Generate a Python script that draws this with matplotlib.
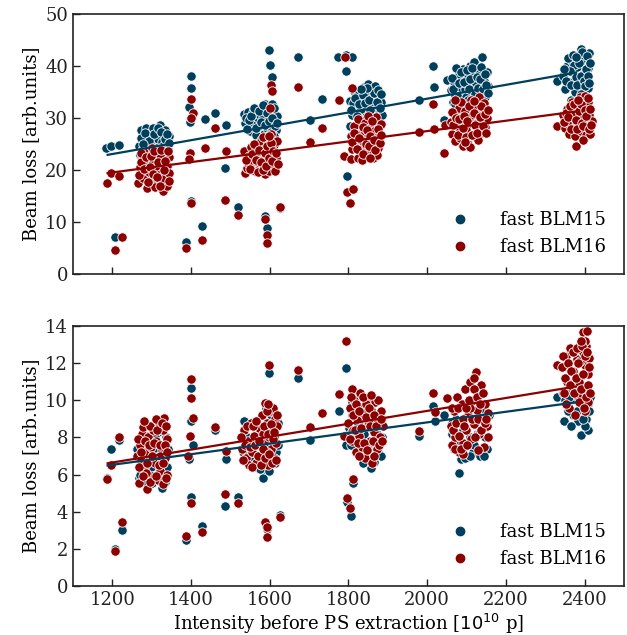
import numpy as np
import matplotlib.pyplot as plt
from matplotlib.lines import Line2D

# top panel, fast BLM15 (x = intensity [1e10 p], y = beam loss)
top_blm15 = [
    # scattered shots
    (1185, 24.3), (1197, 24.6), (1218, 24.8), (1207, 7.2), (1400, 38.1), (1401, 35.8),
    (1394, 32.2), (1397, 29.2), (1436, 29.9), (1461, 30.9), (1490, 28.7), (1486, 20.4),
    (1520, 12.8), (1427, 9.2), (1386, 6.1), (1399, 14.1),
    (1597, 43.0), (1601, 40.2), (1605, 37.9), (1671, 41.7), (1733, 33.7), (1702, 29.6),
    (1774, 41.7), (1793, 42.2), (1810, 41.7), (1794, 39.1), (1797, 18.9), (1589, 11.2),
    (1592, 8.8), (1625, 12.6), (2015, 39.9), (2018, 36.0), (1979, 33.5), (1804, 28.4),
    (2050, 37.3), (2044, 29.7), (2330, 37.2),
    # bunch 1
    (1268, 24.6), (1272, 27.6), (1286, 28.1), (1321, 28.6), (1313, 27.1), (1280, 25.9),
    (1295, 26.5), (1305, 25.3), (1330, 26.8), (1340, 25.8), (1276, 23.8), (1290, 24.4),
    (1300, 27.4), (1318, 24.9), (1335, 27.6), (1342, 24.0), (1284, 22.6), (1308, 23.1),
    (1326, 23.7), (1296, 22.0), (1338, 22.4), (1270, 22.9), (1315, 26.0), (1325, 25.4),
    (1288, 27.0), (1303, 28.0), (1280, 24.0), (1345, 26.6),
    (1274, 26.2), (1282, 27.2), (1292, 25.6), (1298, 23.4), (1306, 26.9), (1311, 24.2),
    (1316, 28.0), (1323, 27.3), (1329, 24.6), (1333, 25.9), (1339, 27.0), (1344, 25.1),
    (1287, 23.3), (1320, 23.0), (1278, 25.0),
    # bunch 2
    (1534, 30.8), (1545, 31.2), (1536, 29.0), (1550, 27.5), (1557, 31.1), (1562, 29.5),
    (1570, 28.2), (1575, 30.6), (1580, 31.8), (1585, 27.0), (1590, 29.9), (1595, 32.3),
    (1600, 30.8), (1603, 28.6), (1608, 31.5), (1612, 29.2), (1616, 27.6), (1598, 26.2),
    (1588, 32.7), (1566, 26.8), (1555, 28.7), (1578, 25.8), (1605, 32.7), (1618, 30.4),
    (1592, 28.0), (1542, 27.9), (1610, 26.5), (1584, 30.0),
    (1540, 30.0), (1548, 29.6), (1553, 30.4), (1560, 32.0), (1564, 28.0), (1572, 31.4),
    (1577, 29.2), (1582, 32.5), (1587, 28.6), (1593, 31.0), (1597, 29.4), (1602, 27.4),
    (1606, 30.0), (1611, 32.0), (1614, 28.4), (1619, 29.0), (1594, 25.6),
    # bunch 3
    (1804, 33.2), (1810, 30.5), (1815, 35.2), (1820, 32.0), (1825, 34.9), (1830, 29.8),
    (1835, 33.6), (1840, 36.0), (1845, 31.2), (1850, 36.5), (1855, 34.2), (1858, 30.0),
    (1862, 35.6), (1866, 32.6), (1870, 29.2), (1874, 34.0), (1878, 31.5), (1882, 33.0),
    (1848, 28.6), (1833, 31.8), (1860, 33.0), (1842, 35.0), (1812, 32.8), (1868, 36.2),
    (1885, 30.6), (1828, 28.9),
    (1807, 31.5), (1817, 33.8), (1822, 30.3), (1827, 32.6), (1838, 34.4), (1843, 32.8),
    (1852, 33.4), (1856, 31.6), (1864, 34.8), (1872, 33.0), (1876, 35.4), (1880, 32.0),
    (1884, 34.6), (1846, 35.8), (1832, 35.6),
    # bunch 4
    (2060, 35.3), (2065, 33.0), (2068, 37.0), (2072, 34.5), (2076, 31.8), (2080, 38.5),
    (2084, 36.0), (2088, 33.8), (2092, 39.5), (2096, 35.5), (2100, 32.4), (2104, 37.8),
    (2108, 40.0), (2112, 34.8), (2116, 31.5), (2120, 38.2), (2124, 36.5), (2128, 33.2),
    (2132, 39.0), (2136, 35.0), (2139, 41.7), (2144, 37.2), (2148, 34.0), (2152, 38.8),
    (2155, 36.2), (2090, 31.0), (2118, 40.8), (2074, 39.6), (2100, 36.8), (2140, 32.4),
    (2062, 37.6), (2066, 35.6), (2078, 34.0), (2082, 36.8), (2086, 38.8), (2094, 37.0),
    (2098, 34.0), (2102, 39.2), (2106, 35.6), (2110, 37.4), (2114, 39.6), (2122, 34.6),
    (2126, 37.8), (2130, 35.8), (2134, 37.4), (2138, 39.8), (2142, 35.6), (2146, 38.4),
    (2150, 36.4), (2154, 34.8), (2070, 32.6), (2104, 33.4),
    # bunch 5
    (2345, 38.0), (2350, 35.5), (2355, 40.0), (2360, 37.0), (2365, 33.5), (2368, 41.0),
    (2372, 38.8), (2376, 35.0), (2380, 39.8), (2384, 42.0), (2388, 36.6), (2390, 43.2),
    (2394, 38.2), (2398, 40.8), (2400, 34.6), (2402, 41.6), (2405, 37.4), (2408, 39.6),
    (2410, 35.8), (2412, 42.4), (2396, 36.0), (2386, 33.6), (2374, 40.2), (2362, 39.0),
    (2392, 41.2), (2406, 33.8), (2378, 37.8),
    (2348, 39.4), (2352, 37.2), (2358, 41.6), (2366, 36.4), (2370, 42.2), (2382, 36.4),
    (2386, 40.6), (2390, 38.0), (2394, 42.6), (2398, 37.2), (2403, 39.4), (2407, 42.0),
    (2410, 38.0), (2414, 40.6), (2400, 36.2), (2378, 41.8), (2392, 34.6), (2412, 36.8),
]

# top panel, fast BLM16
top_blm16 = [
    (1187, 17.5), (1197, 19.4), (1218, 18.8), (1207, 4.7), (1225, 7.1), (1401, 33.7),
    (1406, 30.9), (1401, 30.0), (1397, 23.2), (1394, 22.1), (1399, 13.7), (1386, 5.0),
    (1427, 6.5), (1436, 24.2), (1461, 28.1), (1490, 23.7), (1486, 14.2), (1520, 11.4),
    (1601, 31.9), (1602, 36.3), (1605, 35.2), (1625, 12.9), (1589, 10.6), (1592, 7.5),
    (1594, 6.0), (1671, 36.0), (1733, 28.1), (1702, 25.3), (1775, 33.5), (1792, 41.7),
    (1810, 35.8), (1788, 22.7), (1806, 22.2), (1796, 15.7), (1812, 16.3), (1805, 13.7),
    (1979, 27.3), (2015, 32.7), (2018, 27.8), (2044, 23.2), (2046, 28.6), (2329, 28.5),
    (2379, 24.7),
    # bunch 1
    (1266, 17.5), (1270, 20.5), (1275, 22.4), (1287, 16.5), (1283, 19.0), (1290, 21.5),
    (1296, 23.3), (1300, 18.0), (1305, 20.3), (1310, 22.2), (1315, 17.6), (1318, 24.0),
    (1322, 19.5), (1326, 21.0), (1329, 16.0), (1333, 23.5), (1336, 18.4), (1340, 20.8),
    (1343, 22.5), (1278, 18.4), (1293, 19.6), (1308, 16.8), (1320, 22.8), (1338, 17.0),
    (1281, 23.5), (1300, 24.3), (1312, 20.8), (1328, 18.3), (1345, 19.5), (1272, 21.6),
    (1302, 21.2),
    (1268, 19.0), (1274, 23.2), (1280, 20.2), (1285, 22.5), (1291, 17.6), (1295, 20.6),
    (1298, 22.6), (1304, 19.2), (1307, 23.6), (1313, 18.6), (1317, 21.5), (1321, 16.9),
    (1324, 23.8), (1331, 20.0), (1335, 21.8), (1341, 23.6), (1344, 17.8),
    # bunch 2
    (1535, 23.7), (1538, 19.4), (1543, 20.3), (1548, 22.6), (1553, 24.5), (1558, 21.2),
    (1562, 19.8), (1567, 23.1), (1572, 25.2), (1576, 20.6), (1580, 22.0), (1585, 24.0),
    (1588, 19.2), (1592, 26.0), (1596, 21.5), (1600, 23.4), (1603, 27.0), (1607, 20.2),
    (1611, 24.8), (1615, 22.4), (1618, 25.6), (1590, 22.8), (1570, 21.5), (1598, 19.9),
    (1582, 26.4), (1560, 25.0), (1612, 21.0), (1546, 21.4),
    (1540, 22.0), (1550, 20.2), (1555, 23.0), (1564, 22.0), (1569, 19.6), (1574, 23.8),
    (1578, 21.6), (1583, 20.0), (1587, 23.3), (1591, 20.8), (1594, 24.6), (1597, 22.4),
    (1602, 25.2), (1605, 21.8), (1609, 23.6), (1614, 19.8), (1617, 23.2), (1620, 21.2),
    (1599, 26.6),
    # bunch 3
    (1806, 26.5), (1810, 24.0), (1815, 28.5), (1820, 25.5), (1825, 29.8), (1825, 22.4),
    (1830, 27.2), (1834, 21.9), (1838, 24.8), (1842, 29.0), (1846, 26.2), (1850, 23.3),
    (1854, 28.0), (1858, 25.0), (1862, 22.3), (1866, 27.5), (1870, 30.1), (1874, 24.3),
    (1878, 26.8), (1882, 28.8), (1850, 30.3), (1840, 23.5), (1860, 29.4), (1818, 27.0),
    (1832, 25.8), (1872, 22.8),
    (1808, 25.4), (1813, 27.2), (1822, 24.0), (1828, 26.2), (1836, 28.2), (1844, 25.0),
    (1848, 27.6), (1852, 24.6), (1856, 26.6), (1864, 25.8), (1868, 23.8), (1876, 27.8),
    (1880, 25.2), (1884, 26.8), (1836, 23.0), (1856, 22.4),
    # bunch 4
    (2060, 29.2), (2064, 27.0), (2068, 30.8), (2072, 25.6), (2076, 28.4), (2080, 32.0),
    (2084, 26.2), (2088, 29.6), (2092, 24.6), (2096, 31.3), (2100, 27.8), (2104, 25.0),
    (2108, 30.2), (2112, 33.5), (2116, 28.9), (2120, 26.5), (2124, 31.8), (2128, 29.0),
    (2132, 34.0), (2136, 27.2), (2140, 30.6), (2144, 32.8), (2148, 28.2), (2152, 30.0),
    (2086, 33.0), (2110, 24.4), (2130, 25.8), (2070, 33.5),
    (2062, 31.2), (2066, 28.6), (2074, 30.0), (2078, 26.8), (2082, 29.8), (2090, 28.0),
    (2094, 30.4), (2098, 26.4), (2102, 29.4), (2106, 32.4), (2114, 26.8), (2118, 31.0),
    (2122, 28.6), (2126, 27.2), (2134, 30.2), (2138, 32.4), (2142, 28.4), (2146, 30.8),
    (2150, 27.2), (2154, 31.6), (2096, 25.4), (2120, 33.2),
    # bunch 5
    (2345, 30.5), (2350, 28.0), (2355, 31.8), (2360, 27.0), (2364, 29.5), (2368, 33.0),
    (2372, 30.8), (2376, 26.5), (2380, 32.2), (2384, 29.0), (2388, 34.0), (2392, 27.5),
    (2395, 31.0), (2398, 33.6), (2400, 29.8), (2403, 26.8), (2406, 32.5), (2409, 28.6),
    (2412, 30.6), (2415, 27.0), (2390, 30.2), (2370, 28.0), (2400, 34.3), (2356, 29.0),
    (2410, 33.0), (2418, 29.4),
    (2348, 29.2), (2352, 31.0), (2358, 30.2), (2362, 32.4), (2366, 27.8), (2374, 32.6),
    (2378, 29.6), (2382, 27.8), (2386, 31.4), (2390, 32.6), (2393, 29.0), (2397, 28.4),
    (2402, 31.6), (2405, 30.4), (2408, 33.8), (2411, 27.8), (2414, 31.8), (2416, 28.6),
    (2396, 25.8), (2384, 33.4),
]

# bottom panel, fast BLM15
bot_blm15 = [
    (1197, 7.36), (1218, 7.86), (1187, 5.83), (1207, 2.0), (1225, 3.0), (1401, 10.66),
    (1400, 8.9), (1406, 7.6), (1394, 6.86), (1399, 4.8), (1386, 2.5), (1427, 3.25),
    (1461, 8.38), (1490, 6.86), (1486, 4.3), (1520, 4.8), (1535, 8.9),
    (1597, 11.45), (1671, 11.18), (1775, 9.42), (1793, 11.72), (1810, 9.9), (1794, 7.6),
    (1702, 7.88), (1806, 3.77), (1812, 5.56), (1797, 4.52), (1592, 3.05), (1625, 3.8),
    (1979, 8.08), (2016, 9.68), (2020, 8.9), (2044, 9.19), (2330, 10.19), (2347, 8.9),
    (2390, 8.11), (2409, 8.4),
    # bunch 1
    (1266, 6.9), (1268, 5.83), (1271, 7.66), (1276, 6.3), (1282, 7.2), (1288, 8.1),
    (1295, 6.0), (1300, 5.56), (1305, 7.4), (1310, 6.5), (1316, 8.3), (1320, 5.9),
    (1327, 5.3), (1330, 7.0), (1336, 8.0), (1340, 6.4), (1292, 7.0), (1312, 7.7),
    (1324, 6.8), (1302, 8.6),
    (1270, 6.0), (1286, 5.6), (1298, 6.4), (1308, 8.0), (1318, 7.0), (1334, 5.6),
    (1342, 7.4), (1262, 7.4),
    # bunch 2
    (1533, 7.2), (1542, 8.0), (1550, 6.8), (1558, 7.6), (1565, 6.4), (1572, 8.2),
    (1580, 6.9), (1584, 5.83), (1588, 6.28), (1592, 7.6), (1596, 8.6), (1600, 7.0),
    (1604, 9.2), (1608, 6.64), (1612, 8.0), (1616, 7.2), (1620, 8.8), (1590, 9.6),
    (1538, 7.6), (1554, 7.2), (1562, 8.6), (1576, 6.3), (1598, 6.2), (1606, 7.8),
    (1614, 6.6), (1620, 7.6),
    # bunch 3
    (1802, 8.5), (1810, 9.2), (1818, 7.6), (1825, 8.8), (1832, 7.0), (1840, 8.2),
    (1846, 6.9), (1852, 9.0), (1858, 6.34), (1862, 7.6), (1868, 8.4), (1875, 7.2),
    (1880, 9.0), (1886, 8.0), (1850, 7.6), (1835, 9.6),
    (1806, 7.6), (1820, 8.0), (1836, 6.6), (1844, 7.4), (1856, 7.0), (1866, 6.7),
    (1872, 8.2), (1884, 7.0),
    # bunch 4
    (2062, 8.2), (2068, 7.4), (2074, 9.0), (2080, 6.08), (2087, 6.82), (2092, 8.4),
    (2098, 7.6), (2104, 9.4), (2110, 8.0), (2116, 7.2), (2122, 9.0), (2128, 8.2),
    (2134, 7.0), (2140, 9.6), (2146, 8.0), (2152, 7.4), (2156, 9.2),
    (2064, 8.8), (2070, 8.2), (2084, 7.8), (2096, 6.9), (2108, 7.0), (2120, 7.6),
    (2138, 8.4), (2150, 8.6), (2144, 7.0),
    # bunch 5
    (2345, 10.4), (2355, 9.8), (2362, 10.6), (2370, 9.2), (2378, 10.0), (2384, 8.9),
    (2392, 9.6), (2398, 10.4), (2404, 9.0), (2410, 9.8), (2414, 10.2), (2366, 8.6),
    (2402, 8.6), (2388, 10.77),
    (2350, 10.0), (2358, 9.4), (2374, 10.4), (2380, 9.4), (2396, 9.0), (2406, 10.0),
    (2412, 9.4), (2360, 10.2),
]

# bottom panel, fast BLM16
bot_blm16 = [
    (1197, 6.53), (1218, 8.04), (1187, 5.74), (1207, 1.9), (1225, 3.43), (1401, 11.13),
    (1400, 10.1), (1406, 9.06), (1397, 8.08), (1392, 7.0), (1399, 4.47), (1386, 2.7),
    (1427, 2.92), (1461, 8.58), (1490, 7.29), (1486, 4.97), (1520, 4.49),
    (1597, 11.9), (1671, 11.65), (1775, 10.36), (1793, 13.18), (1810, 10.63), (1733, 9.33),
    (1702, 8.56), (1788, 8.08), (1806, 8.26), (1812, 5.76), (1797, 4.72), (1805, 4.18),
    (1588, 3.46), (1594, 3.16), (1592, 2.66), (1625, 3.72), (1979, 8.33), (2016, 10.37),
    (2020, 9.37), (2050, 10.12), (2329, 11.88),
    # bunch 1
    (1262, 7.0), (1268, 5.53), (1270, 7.6), (1275, 8.2), (1278, 8.58), (1280, 6.4),
    (1284, 7.2), (1287, 5.24), (1290, 8.0), (1294, 6.8), (1298, 7.5), (1300, 5.9),
    (1304, 8.4), (1308, 6.6), (1312, 7.8), (1315, 5.7), (1318, 8.8), (1322, 6.2),
    (1325, 7.3), (1328, 8.4), (1332, 9.06), (1335, 6.9), (1338, 7.9), (1340, 6.0),
    (1330, 5.5), (1320, 7.0), (1296, 8.6), (1285, 6.1), (1310, 9.0), (1272, 6.8),
    (1265, 7.9), (1268, 6.4), (1273, 7.2), (1277, 5.9), (1282, 7.8), (1288, 6.6),
    (1292, 7.6), (1296, 5.6), (1302, 7.0), (1306, 7.7), (1310, 5.9), (1314, 8.4),
    (1318, 6.5), (1322, 7.6), (1326, 8.8), (1330, 6.6), (1334, 7.6), (1337, 8.6),
    (1340, 7.2), (1336, 5.8), (1280, 8.9),
    # bunch 2
    (1530, 7.4), (1535, 8.4), (1540, 6.9), (1545, 7.8), (1548, 6.53), (1552, 8.8),
    (1556, 7.2), (1560, 8.1), (1564, 6.6), (1568, 7.6), (1572, 8.5), (1576, 7.0),
    (1580, 9.2), (1584, 6.8), (1587, 9.84), (1590, 7.9), (1593, 8.8), (1596, 6.5),
    (1600, 9.4), (1603, 7.4), (1606, 8.3), (1610, 6.9), (1613, 9.0), (1616, 7.7),
    (1618, 8.6), (1594, 7.2), (1582, 8.2), (1570, 7.0), (1598, 8.0), (1608, 9.6),
    (1528, 8.0), (1533, 6.8), (1538, 7.6), (1543, 8.6), (1550, 7.5), (1554, 6.4),
    (1558, 8.6), (1562, 7.6), (1566, 8.9), (1574, 7.8), (1578, 6.5), (1582, 7.4),
    (1586, 8.6), (1589, 6.9), (1592, 9.4), (1595, 8.2), (1599, 7.1), (1602, 8.7),
    (1605, 6.6), (1609, 7.9), (1612, 8.3), (1615, 6.8), (1619, 9.2), (1596, 9.8),
    # bunch 3
    (1800, 8.8), (1805, 9.6), (1808, 7.8), (1812, 8.4), (1815, 10.0), (1818, 7.2),
    (1822, 9.0), (1826, 8.1), (1830, 10.4), (1834, 7.5), (1838, 9.3), (1842, 6.9),
    (1846, 8.6), (1850, 10.1), (1854, 7.8), (1858, 9.5), (1860, 6.64), (1864, 8.3),
    (1868, 9.9), (1872, 7.4), (1876, 8.9), (1880, 8.0), (1884, 9.4), (1888, 8.6),
    (1845, 9.8), (1826, 7.0), (1866, 7.0), (1852, 8.8),
    (1803, 7.9), (1807, 10.2), (1811, 9.2), (1816, 8.4), (1820, 9.8), (1824, 7.7),
    (1828, 9.4), (1832, 8.5), (1836, 10.2), (1840, 7.7), (1844, 9.1), (1848, 7.3),
    (1852, 9.6), (1856, 8.6), (1862, 7.8), (1866, 9.2), (1870, 8.6), (1874, 10.0),
    (1878, 7.6), (1882, 9.0), (1886, 7.8), (1858, 10.3),
    # bunch 4
    (2060, 8.6), (2064, 7.6), (2068, 9.4), (2072, 8.0), (2076, 10.2), (2080, 7.2),
    (2084, 8.9), (2088, 9.8), (2092, 7.7), (2096, 10.6), (2100, 8.4), (2104, 9.2),
    (2108, 11.0), (2112, 7.9), (2116, 10.0), (2120, 8.7), (2124, 11.5), (2128, 9.5),
    (2132, 8.2), (2136, 10.8), (2140, 9.0), (2144, 7.5), (2148, 9.8), (2152, 8.6),
    (2155, 9.3), (2090, 7.1), (2130, 7.3), (2110, 9.6),
    (2062, 9.6), (2066, 8.4), (2070, 7.4), (2074, 8.8), (2078, 9.6), (2082, 8.1),
    (2086, 7.4), (2090, 9.0), (2094, 8.6), (2098, 9.6), (2102, 7.6), (2106, 10.0),
    (2114, 9.0), (2118, 10.6), (2122, 8.0), (2126, 10.2), (2130, 9.0), (2134, 9.8),
    (2138, 8.4), (2142, 10.4), (2146, 8.8), (2150, 9.0), (2154, 8.0), (2120, 11.2),
    # bunch 5
    (2342, 11.8), (2348, 10.4), (2352, 12.4), (2356, 11.0), (2360, 9.6), (2364, 12.8),
    (2368, 10.9), (2372, 11.6), (2376, 9.2), (2380, 12.2), (2384, 10.2), (2388, 13.0),
    (2390, 11.3), (2394, 9.8), (2396, 12.6), (2398, 10.6), (2400, 11.9), (2402, 9.4),
    (2404, 12.9), (2406, 10.8), (2408, 11.4), (2410, 9.9), (2412, 12.3), (2395, 13.68),
    (2406, 13.72), (2385, 11.0), (2370, 12.6), (2400, 13.2),
    (2345, 12.4), (2350, 11.2), (2354, 9.8), (2358, 12.0), (2362, 10.8), (2366, 11.6),
    (2374, 10.4), (2378, 11.2), (2382, 12.8), (2386, 9.9), (2389, 12.1), (2392, 10.6),
    (2394, 12.9), (2397, 11.4), (2399, 9.6), (2402, 12.4), (2405, 10.2), (2407, 12.6),
    (2409, 10.8), (2411, 11.8), (2414, 10.4), (2392, 13.2), (2384, 12.0),
]

# linear fits as drawn in the figure: (slope, intercept)
top_fit15 = (0.0133, 7.11)
top_fit16 = (0.00994, 7.60)
bot_fit15 = (0.002855, 3.10)
bot_fit16 = (0.003474, 2.48)

labels = ['fast BLM15', 'fast BLM16']
fit_range = [1188, 2378]
xticks = [1200, 1400, 1600, 1800, 2000, 2200, 2400]

col15 = '#003f5c'
col16 = '#8b0000'

plt.rcParams['font.family'] = 'DejaVu Serif'
plt.rcParams['font.size'] = 13


def panel(ax, d15, d16, f15, f16, ylim, ystep, show_x):
    for d, c in ((d15, col15), (d16, col16)):
        a = np.array(d)
        ax.scatter(a[:, 0], a[:, 1], s=46, c=c, edgecolors='white', linewidths=0.6, zorder=2)
    xx = np.array(fit_range, dtype=float)
    for f, c in ((f15, col15), (f16, col16)):
        ax.plot(xx, np.polyval(f, xx), color=c, lw=1.6, zorder=3)
    ax.set_xlim(1100, 2500)
    ax.set_ylim(*ylim)
    ax.set_xticks(xticks)
    ax.set_yticks(np.arange(ylim[0], ylim[1] + 0.1, ystep))
    ax.tick_params(direction='in', length=5, width=1, colors='#222222')
    if not show_x:
        ax.set_xticklabels([])
    for s in ax.spines.values():
        s.set_color('#222222')
        s.set_linewidth(1.2)
    ax.set_ylabel('Beam loss [arb.units]')
    handles = [Line2D([], [], ls='', marker='o', ms=6, color=c) for c in (col15, col16)]
    ax.legend(handles, labels, loc='lower right', frameon=False, handletextpad=1.2,
              fontsize=13, borderaxespad=0.6)


fig = plt.figure(figsize=(6.27, 6.35), dpi=100)
ax1 = fig.add_axes([0.1164, 0.5685, 0.8786, 0.4095])
ax2 = fig.add_axes([0.1164, 0.0772, 0.8786, 0.4094])
panel(ax1, top_blm15, top_blm16, top_fit15, top_fit16, (0, 50), 10, False)
panel(ax2, bot_blm15, bot_blm16, bot_fit15, bot_fit16, (0, 14), 2, True)
ax2.set_xlabel('Intensity before PS extraction [$10^{10}$ p]', labelpad=2)

fig.savefig('out.png', dpi=100)
